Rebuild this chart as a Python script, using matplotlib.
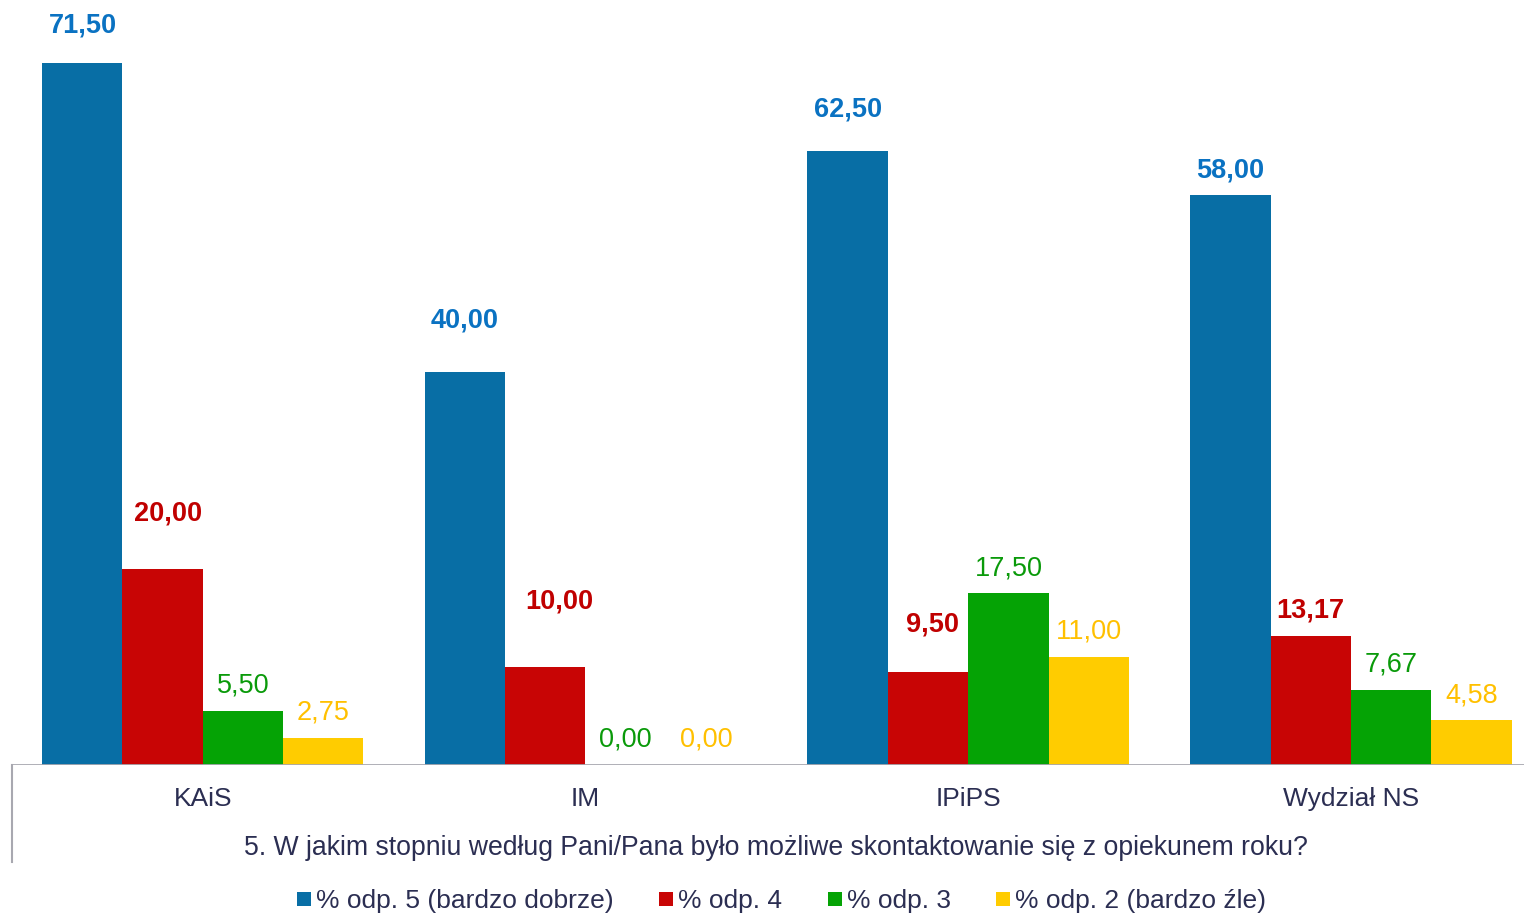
import matplotlib
matplotlib.use("Agg")
import matplotlib.pyplot as plt
from matplotlib.lines import Line2D
import numpy as np

plt.rcParams['font.family'] = ['Liberation Sans', 'DejaVu Sans']

categories = ["KAiS", "IM", "IPiPS", "Wydział NS"]
odp5 = [71.50, 40.00, 62.50, 58.00]
odp4 = [20.00, 10.00, 9.50, 13.17]
odp3 = [5.50, 0.00, 17.50, 7.67]
odp2 = [2.75, 0.00, 11.00, 4.58]
series_names = ["% odp. 5 (bardzo dobrze)", "% odp. 4", "% odp. 3", "% odp. 2 (bardzo źle)"]
question = "5. W jakim stopniu według Pani/Pana było możliwe skontaktowanie się z opiekunem roku?"

bar_colors = ["#086EA5", "#C80505", "#05A305", "#FFCC00"]
label_colors = ["#0A72C2", "#C00000", "#0A9A0A", "#FFC000"]
label_bold = [True, True, False, False]
text_color = "#2B2E52"
line_color = "#A8A8B0"

# manually moved labels (extra pixel offset dx, dy) as in the original
label_shift = {(0, 0): (1, 12), (1, 0): (6, 30), (0, 1): (0, 27), (1, 1): (14, 40),
               (0, 2): (0, 17), (1, 2): (4, 22)}

W, H = 1524, 914
fig = plt.figure(figsize=(W / 100, H / 100), dpi=100)
ax = fig.add_axes([12 / W, 1 - 765 / H, 1 - 12 / W, 765 / H])

x = np.arange(len(categories))
width = 0.21
series = [odp5, odp4, odp3, odp2]
for i, vals in enumerate(series):
    pos = x + (i - 1.5) * width
    ax.bar(pos, vals, width, color=bar_colors[i], linewidth=0, zorder=2)
    for j, v in enumerate(vals):
        dx, dy = label_shift.get((i, j), (0, 0))
        ax.annotate(f"{v:.2f}".replace(".", ","), (pos[j], v),
                    xytext=(dx, 25 + dy), textcoords="offset pixels",
                    ha="center", va="center", fontsize=19.5,
                    fontweight="bold" if label_bold[i] else "normal",
                    color=label_colors[i])

ax.set_xlim(-0.498, 3.452)
ax.set_ylim(0, 765 / 9.82)
for s in ax.spines.values():
    s.set_visible(False)
ax.set_yticks([])
ax.set_xticks([])
ax.axhline(0, color=line_color, lw=2, zorder=3)

for j, c in enumerate(categories):
    ax.annotate(c, (x[j], 0), xytext=(0, -34), textcoords="offset pixels",
                ha="center", va="center", fontsize=19, color=text_color,
                annotation_clip=False)

fig.add_artist(Line2D([12 / W, 12 / W], [1 - 765 / H, 1 - 862 / H],
                      transform=fig.transFigure, color=line_color, lw=1.5))
fig.text(776 / W, 1 - 848 / H, question, ha="center", va="center",
         fontsize=19.2, color=text_color)

handles = [Line2D([], [], marker="s", linestyle="none", markersize=10,
                  markerfacecolor=c, markeredgewidth=0) for c in bar_colors]
leg = fig.legend(handles, series_names, loc="center", ncol=4,
                 bbox_to_anchor=(781 / W, 1 - 901 / H), frameon=False,
                 fontsize=19, handlelength=0.6, handletextpad=0.15,
                 columnspacing=1.7, borderpad=0)
for t in leg.get_texts():
    t.set_color(text_color)

fig.savefig("out.png", dpi=100, facecolor="white")
